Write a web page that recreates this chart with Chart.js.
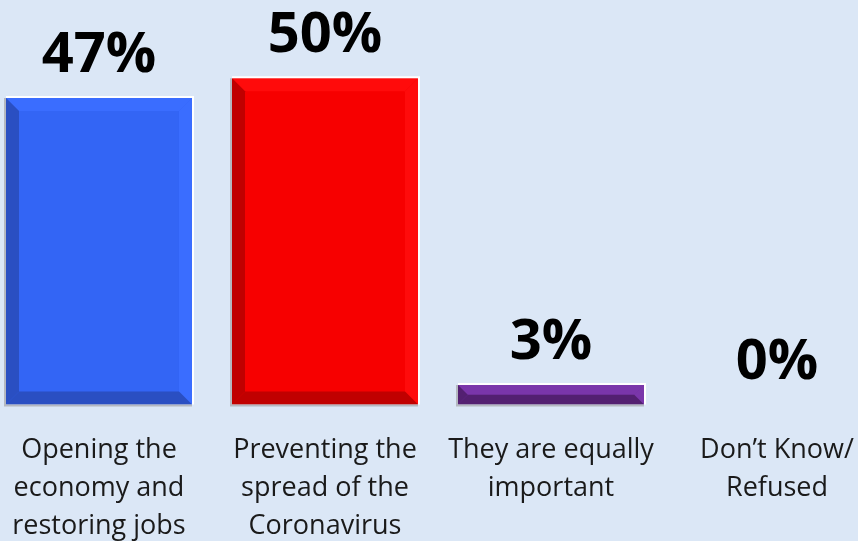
<!DOCTYPE html>
<html>
<head>
<meta charset="utf-8">
<script src="https://cdn.jsdelivr.net/npm/chart.js@4"></script>
<style>
  html, body { margin: 0; padding: 0; background: #dbe7f6; overflow: hidden; }
  #wrap { position: absolute; left: -14px; top: 0; width: 904px; height: 564px; }
</style>
</head>
<body>
<div id="wrap"><canvas id="chart-area"></canvas></div>
<script>
var categories = [
    ['Opening the', 'economy and', 'restoring jobs'],
    ['Preventing the', 'spread of the', 'Coronavirus'],
    ['They are equally', 'important'],
    ['Don\u2019t Know/', 'Refused']
];
var values = [47, 50, 3, 0];
var faceColors = ['#3365f5', '#f70000', '#7432a3', '#7432a3'];
var darkColors = ['#2a4fc2', '#c00000', '#532071', '#532071'];
var lightColors = ['#3a6dff', '#ff0b0b', '#7a36aa', '#7a36aa'];

var bevelPlugin = {
    id: 'bevel',
    afterDatasetsDraw: function(chart) {
        var ctx = chart.ctx;
        var meta = chart.getDatasetMeta(0);
        meta.data.forEach(function(bar, i) {
            var half = bar.width / 2;
            var x0 = bar.x - half, x1 = bar.x + half;
            var y0 = bar.y, y1 = bar.base;
            var h = y1 - y0;
            if (h < 1) return;
            var b = Math.min(13, h / 2);
            var poly = function(pts, color) {
                ctx.beginPath();
                ctx.moveTo(pts[0][0], pts[0][1]);
                for (var k = 1; k < pts.length; k++) ctx.lineTo(pts[k][0], pts[k][1]);
                ctx.closePath();
                ctx.fillStyle = color;
                ctx.fill();
            };
            ctx.save();
            poly([[x0, y0], [x1, y0], [x1 - b, y0 + b], [x0 + b, y0 + b]], lightColors[i]);
            poly([[x1, y0], [x1 - b, y0 + b], [x1 - b, y1 - b], [x1, y1]], lightColors[i]);
            poly([[x0, y0], [x0 + b, y0 + b], [x0 + b, y1 - b], [x0, y1]], darkColors[i]);
            poly([[x0, y1], [x0 + b, y1 - b], [x1 - b, y1 - b], [x1, y1]], darkColors[i]);
            // outline: light on top/right, grey shadow on left/bottom
            ctx.lineWidth = 2;
            ctx.strokeStyle = '#b4b8c0';
            ctx.beginPath();
            ctx.moveTo(x0 - 1, y0);
            ctx.lineTo(x0 - 1, y1 + 1);
            ctx.lineTo(x1, y1 + 1);
            ctx.stroke();
            ctx.strokeStyle = '#ffffff';
            ctx.beginPath();
            ctx.moveTo(x0, y0 - 1);
            ctx.lineTo(x1 + 1, y0 - 1);
            ctx.lineTo(x1 + 1, y1);
            ctx.stroke();
            ctx.restore();
        });
        // value labels
        ctx.save();
        ctx.font = 'bold 56px "Open Sans", "Liberation Sans", sans-serif';
        ctx.fillStyle = '#000000';
        ctx.textAlign = 'center';
        ctx.textBaseline = 'alphabetic';
        meta.data.forEach(function(bar, i) {
            ctx.fillText(values[i] + '%', bar.x, bar.y - 26);
        });
        ctx.restore();
    }
};

var config = {
    type: 'bar',
    data: {
        labels: categories,
        datasets: [{
            data: values,
            backgroundColor: faceColors,
            borderWidth: 0,
            barPercentage: 0.823,
            categoryPercentage: 1
        }]
    },
    options: {
        responsive: true,
        maintainAspectRatio: false,
        animation: false,
        layout: { padding: 0 },
        plugins: { legend: { display: false }, tooltip: { enabled: false } },
        scales: {
            x: {
                grid: { display: false },
                border: { display: false },
                ticks: {
                    color: '#1a1a1a',
                    padding: 18,
                    maxRotation: 0,
                    autoSkip: false,
                    font: { family: '"Open Sans", sans-serif', size: 27, lineHeight: 1.425 }
                }
            },
            y: { display: false, min: 0, max: 62 }
        }
    },
    plugins: [bevelPlugin]
};

var ctx = document.getElementById('chart-area').getContext('2d');
window.myBars = new Chart(ctx, config);
</script>
</body>
</html>
